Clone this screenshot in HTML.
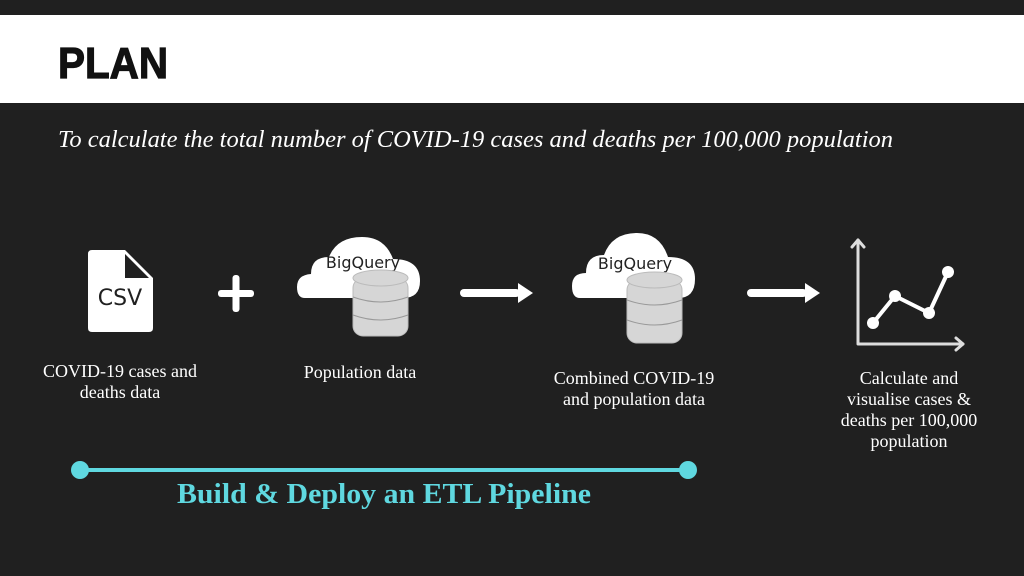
<!DOCTYPE html>
<html><head><style>
body{margin:0;background:#202020;}
svg{display:block}
</style></head><body>
<svg width="1024" height="576" viewBox="0 0 1024 576" xmlns="http://www.w3.org/2000/svg">
<rect width="1024" height="576" fill="#202020"/>
<rect x="0" y="15" width="1024" height="88" fill="#ffffff"/>
<text x="58" y="78" textLength="110" lengthAdjust="spacingAndGlyphs" font-family="Liberation Sans, sans-serif" font-weight="bold" font-size="44" fill="#111" stroke="#111" stroke-width="1.2">PLAN</text>
<text x="58" y="147" textLength="835" lengthAdjust="spacingAndGlyphs" font-family="Liberation Serif, serif" font-style="italic" font-size="24" fill="#fff">To calculate the total number of COVID-19 cases and deaths per 100,000 population</text>

<!-- CSV doc -->
<path d="M92 250 H125 L153 278 V328 Q153 332 149 332 H92 Q88 332 88 328 V254 Q88 250 92 250 Z" fill="#fff"/>
<path d="M125 254 L149 278 H125 Z" fill="#202020"/>
<text x="120" y="305" text-anchor="middle" font-family="DejaVu Sans, sans-serif" font-size="22" fill="#202020">CSV</text>

<!-- plus -->
<rect x="218" y="290" width="36" height="7" rx="3" fill="#fff"/>
<rect x="232.5" y="275" width="7" height="37" rx="3" fill="#fff"/>

<!-- cloud 1 -->
<g transform="translate(297,237)">
<path d="M8 61 Q0 61 0 50 Q0 38 14 37 Q14 20 32 20 Q40 0 65 0 Q88 0 96 22 Q123 22 123 44 Q123 61 106 61 Z" fill="#fff"/>
<text x="66" y="31" text-anchor="middle" font-family="DejaVu Sans, sans-serif" font-size="16" fill="#222">BigQuery</text>
</g>
<g transform="translate(353,270)">
<rect x="0" y="8" width="55" height="58" rx="10" fill="#d6d6d6" stroke="#bbb"/>
<ellipse cx="27.5" cy="8" rx="27.5" ry="8" fill="#d6d6d6" stroke="#bbb"/>
<path d="M0 27 Q27.5 37 55 27 M0 45 Q27.5 55 55 45" stroke="#999" fill="none"/>
</g>

<!-- arrow 1 -->
<rect x="460" y="289" width="60" height="8" rx="4" fill="#fff"/>
<path d="M518 283 L533 293 L518 303 Z" fill="#fff"/>

<!-- cloud 2 -->
<g transform="translate(572,233)">
<path d="M8 65 Q0 65 0 53 Q0 40 14 40 Q14 22 32 22 Q40 0 65 0 Q88 0 96 24 Q123 24 123 46 Q123 65 106 65 Z" fill="#fff"/>
<text x="63" y="36" text-anchor="middle" font-family="DejaVu Sans, sans-serif" font-size="16" fill="#222">BigQuery</text>
</g>
<g transform="translate(627,272)">
<rect x="0" y="8" width="55" height="63" rx="10" fill="#d6d6d6" stroke="#bbb"/>
<ellipse cx="27.5" cy="8" rx="27.5" ry="8" fill="#d6d6d6" stroke="#bbb"/>
<path d="M0 28 Q27.5 38 55 28 M0 48 Q27.5 58 55 48" stroke="#999" fill="none"/>
</g>

<!-- arrow 2 -->
<rect x="747" y="289" width="60" height="8" rx="4" fill="#fff"/>
<path d="M805 283 L820 293 L805 303 Z" fill="#fff"/>

<!-- chart -->
<g stroke="#ddd" stroke-width="3" fill="none" stroke-linecap="round" stroke-linejoin="round">
<path d="M858 240 V344 H963"/>
<path d="M852 247 L858 240 L864 247"/>
<path d="M956 338 L963 344 L956 350"/>
</g>
<g stroke="#fff" stroke-width="4" fill="none" stroke-linejoin="round">
<path d="M873 323 L895 296 L929 313 L948 272"/>
</g>
<g fill="#fff"><circle cx="873" cy="323" r="6"/><circle cx="895" cy="296" r="6"/><circle cx="929" cy="313" r="6"/><circle cx="948" cy="272" r="6"/></g>

<g font-family="Liberation Serif, serif" font-size="18" fill="#fff" text-anchor="middle">
<text x="120" y="377">COVID-19 cases and</text>
<text x="120" y="398">deaths data</text>
<text x="360" y="378">Population data</text>
<text x="634" y="384">Combined COVID-19</text>
<text x="634" y="405">and population data</text>
<text x="909" y="384">Calculate and</text>
<text x="909" y="405">visualise cases &amp;</text>
<text x="909" y="426">deaths per 100,000</text>
<text x="909" y="447">population</text>
</g>

<line x1="80" y1="470" x2="688" y2="470" stroke="#5fd8e0" stroke-width="4"/>
<circle cx="80" cy="470" r="9" fill="#5fd8e0"/>
<circle cx="688" cy="470" r="9" fill="#5fd8e0"/>
<text x="177" y="503" textLength="414" lengthAdjust="spacingAndGlyphs" font-family="Liberation Serif, serif" font-weight="bold" font-size="28" fill="#5fd8e0">Build &amp; Deploy an ETL Pipeline</text>
</svg>
</body></html>
